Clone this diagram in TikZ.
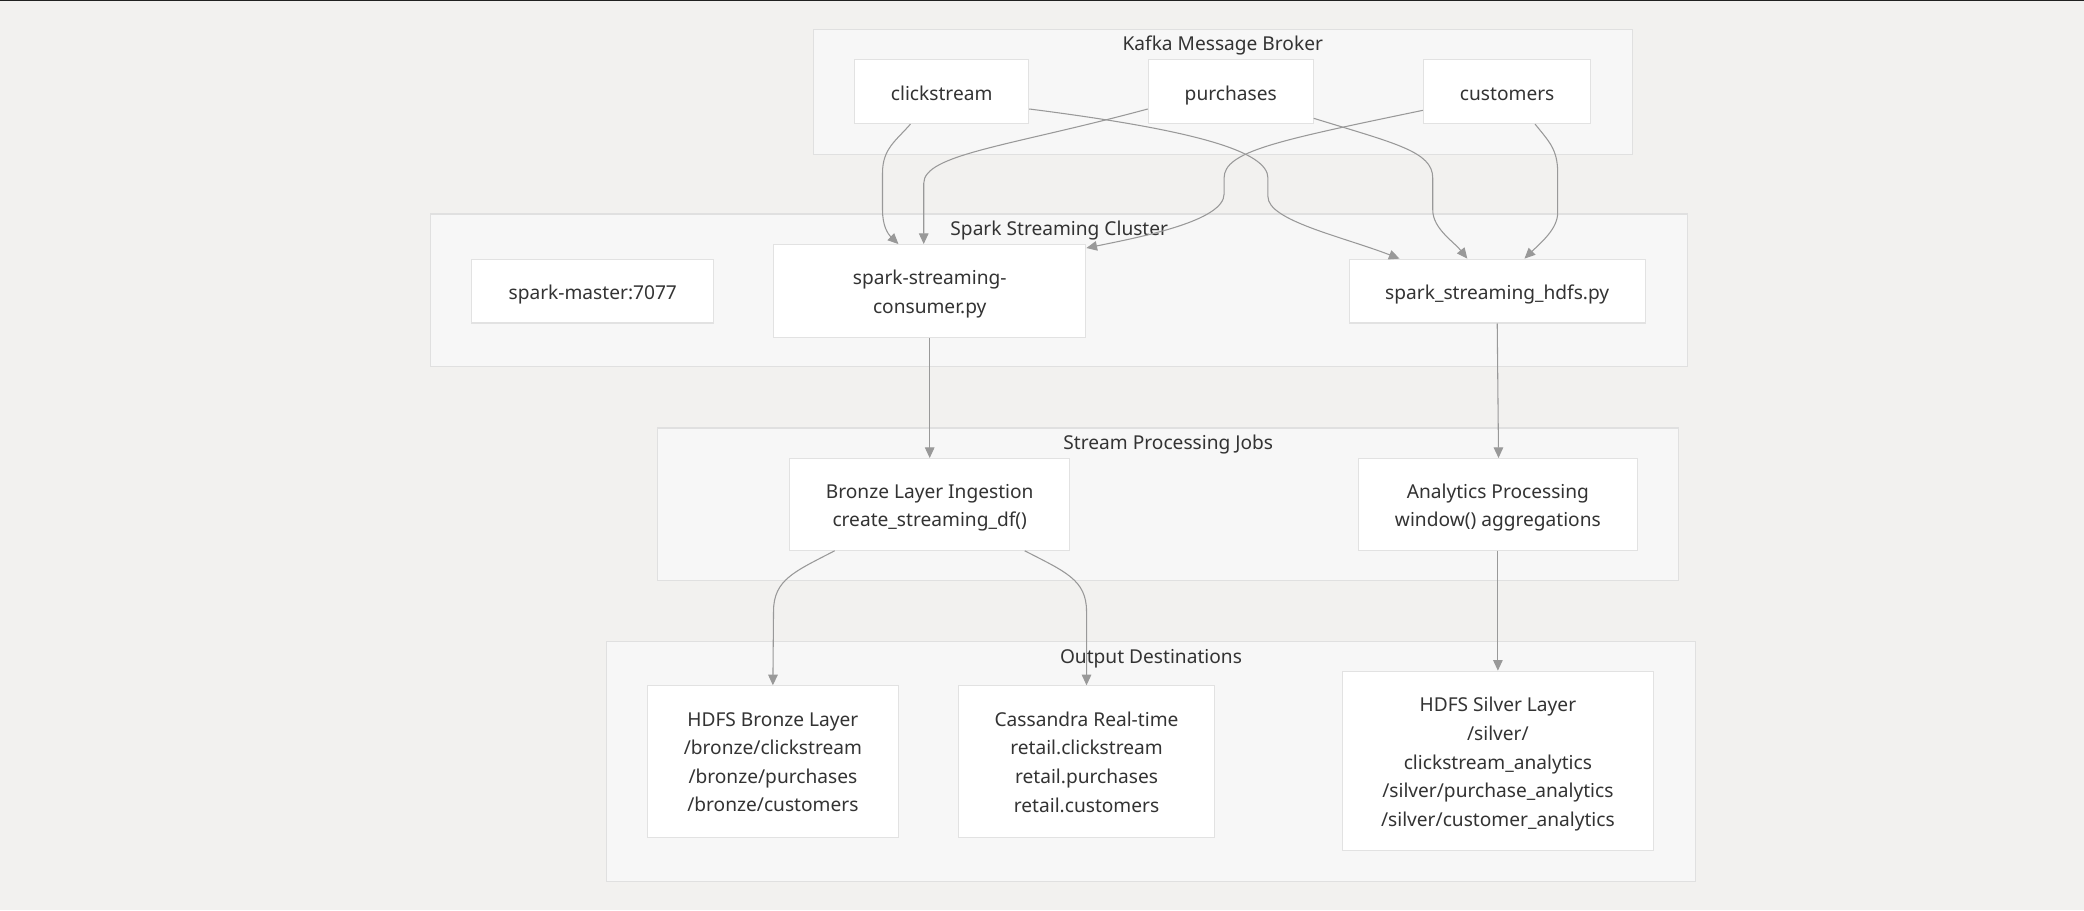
\documentclass[tikz,border=0pt]{standalone}
\usepackage{fontspec}
\setmainfont{Noto Sans}
\usetikzlibrary{arrows.meta}
\definecolor{bgc}{HTML}{F2F1EF}
\definecolor{clfill}{HTML}{F7F7F7}
\definecolor{clline}{HTML}{E0E0E0}
\definecolor{ndline}{HTML}{E2E2E2}
\definecolor{edgec}{HTML}{999999}
\definecolor{txt}{HTML}{333333}
\tikzset{
  nd/.style={draw=ndline, fill=white, line width=0.4pt, inner sep=0pt},
  lbl/.style={text=txt, align=center, font=\fontsize{7.2}{10.75}\selectfont, inner sep=0pt, yshift=-1.2pt},
  lbla/.style={lbl, text height=5.6pt, text depth=1.5pt},
  sz/.style 2 args={minimum width=#1*0.5pt, minimum height=#2*0.5pt},
  cluster/.style={draw=clline, fill=clfill, line width=0.4pt},
  cltitle/.style={text=txt, font=\fontsize{7.2}{10.75}\selectfont, inner sep=0pt, text height=5.6pt, text depth=1.5pt},
  edge/.style={draw=edgec, line width=0.4pt, -{Triangle[length=4pt,width=3.6pt]}},
}
\begin{document}
\begin{tikzpicture}[x=0.5pt,y=-0.5pt]
\fill[bgc] (0,0) rectangle (1568,685);
\useasboundingbox (0,0) rectangle (1568,685);
\fill[black!87] (0,0) rectangle (1568,0.8);
% clusters
\draw[cluster] (612,22) rectangle (1228,116);
\node[cltitle] (tk) at (920,34) {Kafka Message Broker};
\draw[cluster] (324,161) rectangle (1270,276);
\node[cltitle] (tsp) at (797,173) {Spark Streaming Cluster};
\draw[cluster] (495,322) rectangle (1263,437);
\node[cltitle] (tst) at (879,334) {Stream Processing Jobs};
\draw[cluster] (456,483) rectangle (1276,663);
\node[cltitle] (tout) at (866,495) {Output Destinations};
% nodes
\node[nd, sz={131}{48}, label={[lbla]center:clickstream}] (cs) at (708.5,69) {};
\node[nd, sz={124}{48}, label={[lbla]center:purchases}] (pu) at (926,69) {};
\node[nd, sz={126}{48}, label={[lbla]center:customers}] (cu) at (1134,69) {};
\node[nd, sz={182}{48}, label={[lbla]center:spark-master:7077}] (ma) at (446,219) {};
\node[nd, sz={235}{70}, label={[lbl]center:spark-streaming-\\consumer.py}] (con) at (699.5,219) {};
\node[nd, sz={223}{48}, label={[lbla]center:spark\_streaming\_hdfs.py}] (hd) at (1126.5,219) {};
\node[nd, sz={211}{69}, label={[lbl]center:Bronze Layer Ingestion\\create\_streaming\_df()}] (br) at (699.5,379.5) {};
\node[nd, sz={210}{69}, label={[lbl]center:Analytics Processing\\window() aggregations}] (an) at (1127,379.5) {};
\node[nd, sz={189}{114}, label={[lbl,yshift=1pt]center:HDFS Bronze Layer\\/bronze/clickstream\\/bronze/purchases\\/bronze/customers}] (hb) at (581.5,573) {};
\node[nd, sz={193}{114}, label={[lbl,yshift=1pt]center:Cassandra Real-time\\retail.clickstream\\retail.purchases\\retail.customers}] (ca) at (817.5,573) {};
\node[nd, sz={234}{135}, label={[lbl]center:HDFS Silver Layer\\/silver/\\clickstream\_analytics\\/silver/purchase\_analytics\\/silver/customer\_analytics}] (si) at (1127,572.5) {};
% edges
\draw[edge] ([xshift=-11.75pt]cs.south) .. controls (674,106) and (664,112) .. (664,130) -- (664,158) .. controls (664,170) and (668,176) .. ([xshift=-11.75pt]con.north);
\draw[edge] ([yshift=-6.5pt]pu.west) .. controls (760,110) and (695,116) .. (695,138) -- ([xshift=-2.25pt]con.north);
\draw[edge] ([yshift=-7pt]cu.west) .. controls (960,106) and (921,114) .. (921,134) -- (921,146) .. controls (921,166) and (860,178) .. ([yshift=-1.5pt]con.north east);
\draw[edge] ([yshift=-6.5pt]cs.east) .. controls (900,98) and (954,114) .. (954,134) -- (954,148) .. controls (954,166) and (1010,178) .. ([xshift=-36.75pt]hd.north);
\draw[edge] ([yshift=-10pt]pu.east) .. controls (1050,108) and (1078,114) .. (1078,134) -- (1078,158) .. controls (1078,172) and (1094,182) .. ([xshift=-11.25pt]hd.north);
\draw[edge] ([xshift=10.5pt]cu.south) .. controls (1165,106) and (1172,112) .. (1172,130) -- (1172,160) .. controls (1172,172) and (1160,182) .. ([xshift=10.25pt]hd.north);
\draw[edge] (con.south) -- (br.north);
\draw[edge] (hd.south) -- ([xshift=0.25pt]an.north);
\draw[edge] ([xshift=-35.75pt]br.south) .. controls (598,430) and (582,436) .. (582,460) -- (hb.north);
\draw[edge] ([xshift=35.75pt]br.south) .. controls (801,430) and (817.5,436) .. (817.5,460) -- (ca.north);
\draw[edge] (an.south) -- (si.north);
\end{tikzpicture}
\end{document}
